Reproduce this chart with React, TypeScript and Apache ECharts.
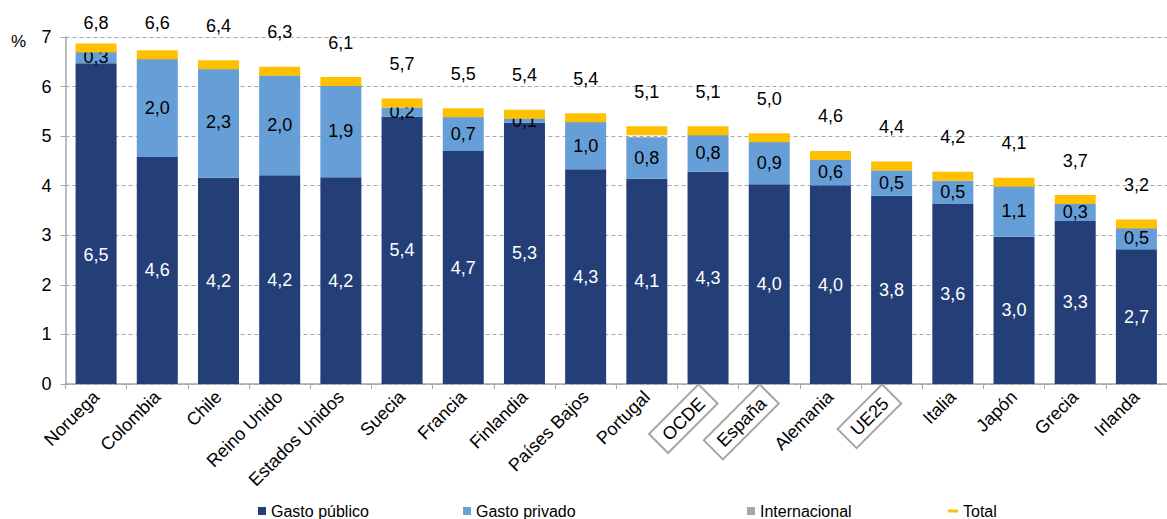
import React, { useEffect, useRef } from "react";
import * as echarts from "echarts";

const categories = [
  "Noruega", "Colombia", "Chile", "Reino Unido", "Estados Unidos", "Suecia", "Francia",
  "Finlandia", "Países Bajos", "Portugal", "OCDE", "España", "Alemania", "UE25",
  "Italia", "Japón", "Grecia", "Irlanda",
];
const gastoPublico = [6.47, 4.58, 4.16, 4.21, 4.17, 5.39, 4.70, 5.27, 4.33, 4.14, 4.28, 4.03, 4.01, 3.80, 3.63, 2.97, 3.29, 2.72];
const gastoPrivado = [0.26, 1.98, 2.25, 2.02, 1.85, 0.19, 0.69, 0.09, 0.96, 0.84, 0.76, 0.86, 0.55, 0.51, 0.47, 1.05, 0.34, 0.45];
const internacional = [0, 0, 0, 0, 0, 0, 0, 0, 0, 0, 0, 0, 0, 0, 0, 0, 0, 0];
const total = [6.78, 6.64, 6.44, 6.31, 6.10, 5.67, 5.47, 5.44, 5.37, 5.11, 5.11, 4.97, 4.61, 4.40, 4.19, 4.07, 3.72, 3.23];
const yTicks = [0, 1, 2, 3, 4, 5, 6, 7];
const boxed = ["OCDE", "España", "UE25"];

const FONT = "'Liberation Sans', Arial, sans-serif";
const fmt = (v: number) => v.toFixed(1).replace(".", ",");

export default function App() {
  const ref = useRef<HTMLDivElement>(null);
  useEffect(() => {
    if (!ref.current) return;
    const chart = echarts.init(ref.current, null, { renderer: "svg" });
    const gridTop = 37;
    const gridHeight = 347;
    const yMax = yTicks[yTicks.length - 1];
    const pxPerUnit = gridHeight / yMax;

    const totalData = total.map((v) => {
      const py = gridTop + (yMax - v) * pxPerUnit;
      const off = Math.min(39, py - 23);
      return { value: v, label: { offset: [0, -off] } };
    });
    const publicData = gastoPublico.map((v, i) =>
      i === 0 ? { value: v, label: { offset: [0, 31] } } : { value: v }
    );
    const legendText = { fontSize: 16, color: "#000", fontFamily: FONT };

    chart.setOption({
      animation: false,
      textStyle: { fontFamily: FONT },
      grid: { left: 65.5, top: gridTop, height: gridHeight, width: 1112 },
      legend: [
        { data: [{ name: "Gasto público", icon: "rect" }], left: 258, top: 503, itemWidth: 8, itemHeight: 8, padding: 0, textStyle: legendText },
        { data: [{ name: "Gasto privado", icon: "rect" }], left: 463, top: 503, itemWidth: 8, itemHeight: 8, padding: 0, textStyle: legendText },
        { data: [{ name: "Internacional", icon: "rect" }], left: 747, top: 503, itemWidth: 8, itemHeight: 8, padding: 0, textStyle: legendText },
        { data: [{ name: "Total", icon: "rect" }], left: 948, top: 503, itemWidth: 10, itemHeight: 3, padding: 0, textStyle: legendText },
      ],
      xAxis: {
        type: "category",
        data: categories,
        axisLine: { lineStyle: { color: "#A6A6A6", width: 1.5 } },
        axisTick: { show: true, length: 5, lineStyle: { color: "#A6A6A6" } },
        axisLabel: {
          rotate: 45,
          interval: 0,
          margin: 10,
          fontSize: 18,
          color: "#000",
          fontFamily: FONT,
          formatter: (v: string) => (boxed.includes(v) ? `{box|${v}}` : v),
          rich: {
            box: {
              fontSize: 18,
              color: "#000",
              fontFamily: FONT,
              borderColor: "#A6A6A6",
              borderWidth: 2,
              padding: [5, 9, 4, 9],
            },
          },
        },
      },
      yAxis: {
        type: "value",
        min: 0,
        max: yMax,
        interval: 1,
        axisLine: { show: true, lineStyle: { color: "#A6A6A6", width: 1.5 } },
        axisTick: { show: true, length: 5, lineStyle: { color: "#A6A6A6" } },
        axisLabel: { fontSize: 18, color: "#000", margin: 14, fontFamily: FONT },
        splitLine: { lineStyle: { color: "#A6A6A6", type: [4, 3], width: 1 } },
      },
      graphic: [
        { type: "text", left: 11, top: 33, style: { text: "%", fontSize: 17, fill: "#000", fontFamily: FONT } },
      ],
      series: [
        {
          name: "Gasto público",
          type: "bar",
          stack: "s",
          barWidth: 41,
          data: publicData,
          itemStyle: { color: "#243F77" },
          label: { show: true, position: "inside", color: "#fff", fontSize: 18, fontFamily: FONT, formatter: (p: any) => fmt(p.value) },
        },
        {
          name: "Gasto privado",
          type: "bar",
          stack: "s",
          barWidth: 41,
          data: gastoPrivado,
          itemStyle: { color: "#669ED7" },
          label: { show: true, position: "inside", color: "#000", fontSize: 18, fontFamily: FONT, formatter: (p: any) => fmt(p.value) },
        },
        {
          name: "Internacional",
          type: "bar",
          stack: "s",
          barWidth: 41,
          data: internacional,
          itemStyle: { color: "#A6A6A6" },
        },
        {
          name: "Total",
          type: "line",
          data: totalData,
          symbol: "rect",
          symbolSize: [41, 9],
          lineStyle: { width: 0, opacity: 0 },
          itemStyle: { color: "#FFC000" },
          z: 5,
          label: { show: true, position: "inside", color: "#000", fontSize: 18, fontFamily: FONT, formatter: (p: any) => fmt(p.value) },
        },
      ],
    });
    return () => chart.dispose();
  }, []);
  return (
    <div
      ref={ref}
      style={{ position: "fixed", left: 0, top: 0, width: 1167, height: 519, background: "#fff" }}
    />
  );
}
